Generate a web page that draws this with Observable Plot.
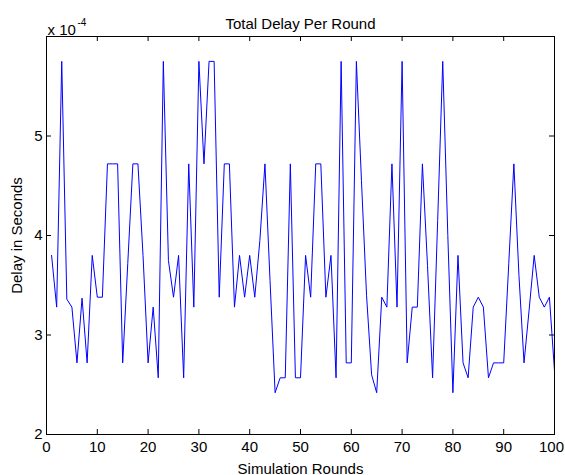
<!DOCTYPE html>
<html><head><meta charset="utf-8">
<script src="https://cdn.jsdelivr.net/npm/d3@7"></script>
<script src="https://cdn.jsdelivr.net/npm/@observablehq/plot@0.6"></script>
<style>body{margin:0;background:#fff}</style>
</head><body><div id="chart"></div>
<script>
// Simulation rounds 1..100
const rounds = d3.range(1, 101);
// Total delay per round, in units of 1e-4 seconds
const delay = [
  3.80, 3.28, 5.75, 3.36, 3.28, 2.72, 3.37, 2.72, 3.80, 3.38,
  3.38, 4.72, 4.72, 4.72, 2.72, 3.72, 4.72, 4.72, 3.80, 2.72,
  3.28, 2.57, 5.75, 3.75, 3.38, 3.80, 2.57, 4.72, 3.28, 5.75,
  4.72, 5.75, 5.75, 3.38, 4.72, 4.72, 3.28, 3.80, 3.38, 3.80,
  3.38, 3.95, 4.72, 3.55, 2.42, 2.57, 2.57, 4.72, 2.57, 2.57,
  3.80, 3.38, 4.72, 4.72, 3.38, 3.80, 2.57, 5.75, 2.72, 2.72,
  5.75, 4.55, 3.40, 2.60, 2.42, 3.38, 3.28, 4.72, 3.28, 5.75,
  2.72, 3.28, 3.28, 4.72, 3.70, 2.57, 4.15, 5.75, 4.00, 2.42,
  3.80, 2.72, 2.57, 3.28, 3.38, 3.28, 2.57, 2.72, 2.72, 2.72,
  3.72, 4.72, 3.60, 2.72, 3.25, 3.80, 3.38, 3.28, 3.38, 2.64
];
const xTicks = [0, 10, 20, 30, 40, 50, 60, 70, 80, 90, 100];
const yTicks = [2, 3, 4, 5];
const titleText = "Total Delay Per Round";
const xLabel = "Simulation Rounds";
const yLabel = "Delay in Seconds";
const exponentBase = "x 10";
const exponentPower = "-4";

const data = rounds.map((r, i) => ({round: r, delay: delay[i]}));
const xTicksInner = xTicks.slice(0, -1);
const xTickLast = xTicks.slice(-1);

const W = 565, H = 475, mL = 46, mR = 11, mT = 36, mB = 41;
const fw = W - mL - mR, fh = H - mT - mB;

const chart = Plot.plot({
  width: W, height: H,
  marginLeft: mL, marginRight: mR, marginTop: mT, marginBottom: mB,
  style: {fontFamily: "'Liberation Sans', Arial, sans-serif", fontSize: "15px", background: "#fff", color: "#000"},
  x: {domain: [0, 100]},
  y: {domain: [2, 6]},
  marks: [
    Plot.ruleX(xTicks, {x: d => d, insetTop: fh - 5, stroke: "#000"}),
    Plot.ruleX(xTicks, {x: d => d, insetBottom: fh - 5, stroke: "#000"}),
    Plot.ruleY(yTicks, {y: d => d, insetRight: fw - 5, stroke: "#000"}),
    Plot.ruleY(yTicks, {y: d => d, insetLeft: fw - 5, stroke: "#000"}),
    Plot.axisX({ticks: xTicksInner, tickSize: 0, tickPadding: 7, tickFormat: d3.format("d"), label: xLabel, labelAnchor: "center", labelArrow: "none", labelOffset: 39}),
    Plot.axisX({ticks: xTickLast, tickSize: 0, tickPadding: 7, dx: -3, tickFormat: d3.format("d"), label: null}),
    Plot.axisY({ticks: yTicks, tickSize: 0, tickPadding: 4, tickFormat: d3.format("d"), label: yLabel, labelAnchor: "center", labelArrow: "none", labelOffset: 35}),
    Plot.lineY(data, {x: "round", y: "delay", stroke: "#0000ff", strokeWidth: 1}),
    Plot.frame({stroke: "#000"}),
    Plot.text([titleText], {frameAnchor: "top", dy: -18}),
    Plot.text([exponentBase], {frameAnchor: "top-left", textAnchor: "start", dx: 1, dy: -12}),
    Plot.text([exponentPower], {frameAnchor: "top-left", textAnchor: "start", dx: 31, dy: -18, fontSize: 10})
  ]
});
document.getElementById("chart").appendChild(chart);
</script>
</body></html>
